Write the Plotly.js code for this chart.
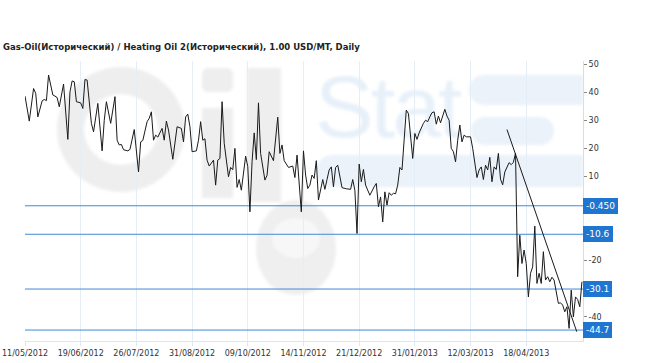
<!DOCTYPE html>
<html>
<head>
<meta charset="utf-8">
<script src="https://cdn.plot.ly/plotly-3.0.1.min.js"></script>
<style>
  html, body { margin: 0; padding: 0; background: #ffffff; }
  #wrap { position: relative; width: 650px; height: 363px; overflow: hidden; }
  .wm { position: absolute; z-index: 0; filter: blur(1.5px); }
  #chart { position: absolute; left: 0; top: 0; width: 650px; height: 363px; z-index: 1; }
</style>
</head>
<body>
<div id="wrap">
  <!-- faint "OilStat" watermark behind the transparent chart -->
  <div class="wm" style="left:57px;top:67px;width:128px;height:125px;border:27px solid #eeeeee;border-radius:50%;box-sizing:border-box;"></div>
  <div class="wm" style="left:202px;top:68px;width:31px;height:24px;background:#eeeeee;border-radius:6px;"></div>
  <div class="wm" style="left:202px;top:108px;width:31px;height:90px;background:#eeeeee;"></div>
  <div class="wm" style="left:247px;top:68px;width:34px;height:134px;background:#eeeeee;"></div>
  <div class="wm" style="left:256px;top:200px;width:80px;height:95px;background:#efefef;border-radius:50% 50% 48% 48%;"></div>
  <div class="wm" style="left:272px;top:218px;width:48px;height:40px;background:#f7f7f7;border-radius:50%;"></div>
  <div class="wm" style="left:469px;top:75px;width:114px;height:30px;background:#ebf2fa;border-radius:15px 0 0 15px;"></div>
  <div class="wm" style="left:471px;top:117px;width:83px;height:28px;background:#ebf2fa;border-radius:14px;"></div>
  <div class="wm" style="left:316px;top:155px;width:267px;height:32px;background:#ebf2fa;border-radius:16px 0 0 16px;"></div>
  <div class="wm" style="left:315px;top:63px;font-family:'Liberation Sans',Arial,sans-serif;font-size:88px;line-height:88px;color:#e7f0f9;letter-spacing:-3px;">Stat</div>
  <div id="chart"></div>
</div>
<script>
// trading-day index of each reading and the spread value (USD/MT)
const dayIndex = [
  0,2,4,5,6,8,9,10,11,13,14,15,16,18,20,21,22,23,24,26,27,28,29,31,32,34,36,37,38,40,
  42,43,44,45,46,48,49,51,53,54,55,57,58,59,60,61,62,64,65,66,67,69,71,73,74,75,76,77,78,80,
  81,82,83,84,85,86,88,89,90,91,92,93,95,96,97,98,99,100,101,103,104,105,106,107,108,109,110,112,113,114,
  116,118,119,120,121,123,125,126,127,128,129,130,131,132,133,134,135,136,137,139,140,141,142,143,144,145,146,148,149,150,
  152,153,154,155,156,157,158,159,161,162,163,164,165,166,167,168,169,170,171,172,173,174,175,176,178,179,180,181,182,183,
  184,185,186,187,188,189,190,191,192,193,194,196,197,198,199,200,201,202,203,204,205,206,208,209,211,212,213,214,215,216,
  217,218,219,220,221,222,223,224,225,226,227,228,229,230,231,232,233,234,235,236,237,238,239,240,241,242,243,244,245,246,
  247,248,249,250,251,252,253,254,255,256,257,258,259,260
];
const spread = [
  38.6,29.7,41.3,39.6,31.2,36.9,37.4,37.0,46.1,39.0,38.6,38.1,34.8,42.9,23.2,40.1,44.0,43.7,36.6,36.2,34.2,44.5,44.3,28.9,25.9,36.0,19.1,30.0,36.6,28.9,
  38.4,22.9,21.2,21.4,19.5,19.1,19.6,26.7,11.6,22.3,22.8,29.5,30.7,33.0,22.9,24.7,24.0,27.1,22.9,29.7,26.5,16.1,27.7,27.1,22.3,31.2,32.2,27.7,18.8,19.1,
  22.9,29.5,22.9,23.4,15.8,13.7,15.8,6.9,15.8,16.4,36.6,21.8,9.9,13.2,12.4,20.0,6.1,8.9,5.1,17.2,13.5,-2.6,15.2,25.5,16.0,36.2,18.2,8.7,10.4,18.8,
  15.6,31.1,18.2,21.2,15.6,13.2,13.7,9.6,17.6,6.9,-2.6,19.1,10.5,5.7,6.9,10.5,9.3,15.6,1.6,8.9,5.4,8.9,12.3,13.4,6.3,13.2,14.0,6.0,5.7,5.6,
  5.4,8.9,5.1,-10.3,14.4,8.1,12.5,6.9,3.3,5.1,6.3,7.5,-0.8,2.7,-6.2,4.5,-0.2,4.2,3.3,4.0,3.8,6.9,13.2,12.3,33.6,32.4,25.3,16.4,25.3,23.2,
  25.5,27.5,28.9,30.0,29.5,31.2,32.7,33.0,28.6,31.5,29.1,33.9,31.5,30.0,20.0,18.8,15.2,22.9,28.3,22.3,24.7,24.1,24.1,20.0,9.6,12.3,13.4,8.9,14.0,12.3,
  16.8,8.1,13.4,12.5,18.2,9.0,7.0,11.6,13.5,14.9,14.2,15.0,18.3,-25.7,-10.9,-21.0,-16.2,-21.0,-32.9,-24.5,-22.2,-7.7,-28.1,-24.5,-28.1,-16.8,-26.9,-25.7,-27.5,-25.9,
  -26.9,-30.5,-35.2,-35.0,-35.8,-38.2,-36.4,-44.1,-30.5,-40.0,-32.9,-33.8,-36.4,-27.5
];
// straight trend line drawn by the analyst
const trendIndex = [225, 257.6];
const trendValue = [26.7, -45.3];
// horizontal levels and their labels
const levelValues = [-0.45, -10.6, -30.1, -44.7];
const levelLabels = ['-0.450', '-10.6', '-30.1', '-44.7'];
// x-axis ticks (every 26 trading days)
const tickIndex = [0, 26, 52, 78, 104, 130, 156, 182, 208, 234];
const tickLabels = ['11/05/2012','19/06/2012','26/07/2012','31/08/2012','09/10/2012','14/11/2012','21/12/2012','31/01/2013','12/03/2013','18/04/2013'];
// visible y ticks (0, -10 and -30 sit under the level labels)
const yTickValues = [50, 40, 30, 20, 10, -20, -40];
const titleText = 'Gas-Oil(Исторический) / Heating Oil 2(Исторический), 1.00 USD/MT, Daily';

const xRange = [0, 260.5];
const FONT = 'DejaVu Sans, Verdana, sans-serif';
const BLUE_LINE = '#3f8ad6';
const BLUE_BOX = '#1f76d1';

const traces = [];
levelValues.forEach(function (v) {
  traces.push({
    x: xRange, y: [v, v], type: 'scatter', mode: 'lines',
    line: { color: BLUE_LINE, width: 1 }, hoverinfo: 'skip', showlegend: false
  });
});
traces.push({
  x: dayIndex, y: spread, type: 'scatter', mode: 'lines',
  line: { color: '#1a1a1a', width: 1 }, showlegend: false
});
traces.push({
  x: trendIndex, y: trendValue, type: 'scatter', mode: 'lines',
  line: { color: '#1a1a1a', width: 1 }, showlegend: false
});

const annotations = levelValues.map(function (v, i) {
  return {
    xref: 'paper', yref: 'y', x: 1, y: v, xanchor: 'left', yanchor: 'middle',
    text: levelLabels[i], showarrow: false,
    font: { family: FONT, size: 9, color: '#ffffff' },
    bgcolor: BLUE_BOX, bordercolor: BLUE_BOX, borderwidth: 1, borderpad: 2
  };
});

const layout = {
  width: 650, height: 363,
  margin: { l: 25, r: 67, t: 61, b: 22, pad: 0 },
  paper_bgcolor: 'rgba(0,0,0,0)', plot_bgcolor: 'rgba(0,0,0,0)',
  title: {
    text: '<b>' + titleText + '</b>',
    x: 3 / 650, xanchor: 'left', xref: 'container',
    y: 1 - 47 / 363, yanchor: 'middle', yref: 'container',
    font: { family: FONT, size: 8.5, color: '#222' }
  },
  xaxis: {
    range: xRange, tickmode: 'array', tickvals: tickIndex, ticktext: tickLabels,
    showgrid: true, gridcolor: '#e5edf6', gridwidth: 1,
    ticks: 'outside', ticklen: 4, tickcolor: '#dde5ee',
    showline: true, linecolor: '#dde5ee', linewidth: 1,
    zeroline: false, fixedrange: true,
    tickfont: { family: FONT, size: 8, color: '#333' }
  },
  yaxis: {
    side: 'right', range: [-48.6, 51.1],
    tickmode: 'array', tickvals: yTickValues, ticktext: yTickValues.map(String),
    showgrid: false, ticks: 'outside', ticklen: 3, tickcolor: '#888',
    showline: true, linecolor: '#d6dee8', linewidth: 1,
    zeroline: false, fixedrange: true,
    tickfont: { family: FONT, size: 8, color: '#333' }
  },
  annotations: annotations,
  showlegend: false
};

Plotly.newPlot('chart', traces, layout, { displayModeBar: false, staticPlot: true });
</script>
</body>
</html>
